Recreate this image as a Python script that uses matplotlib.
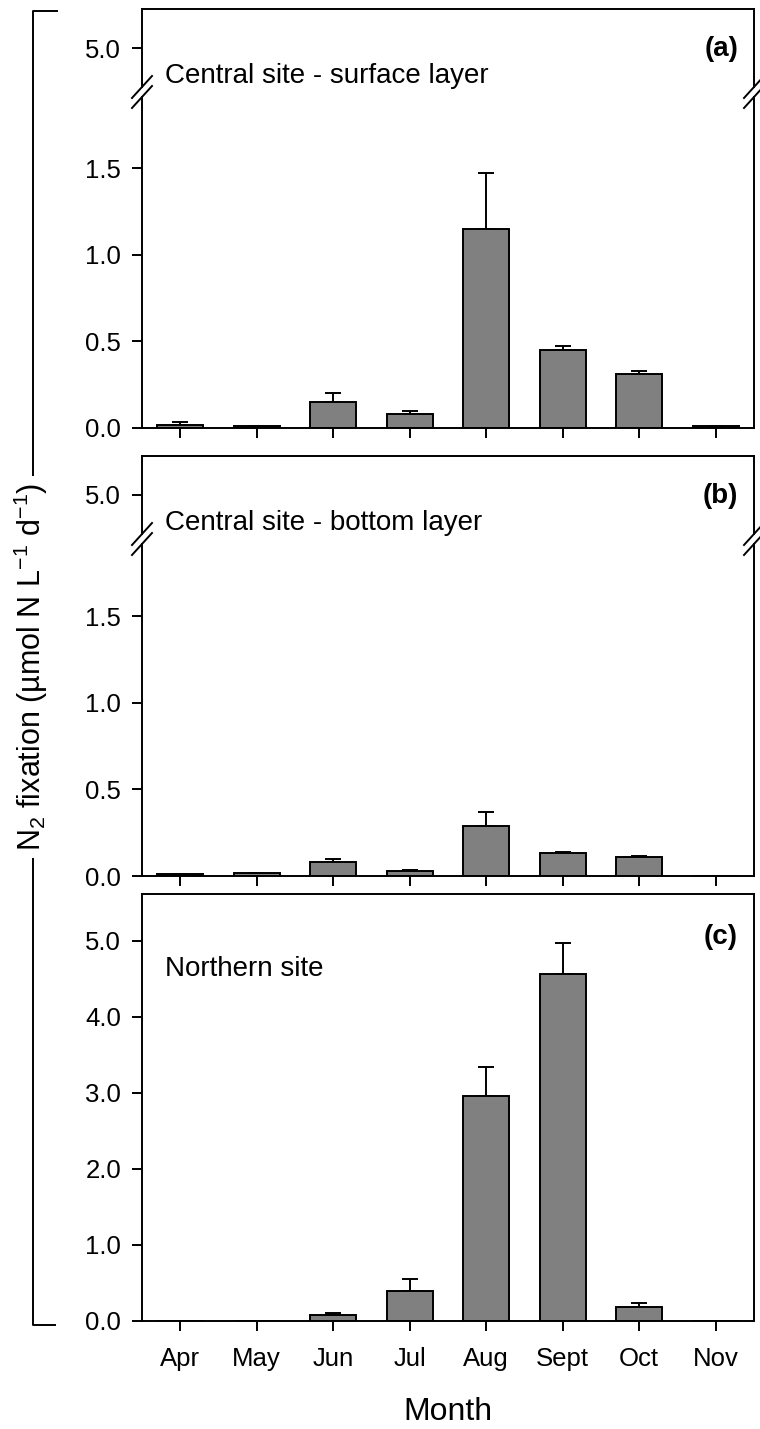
import matplotlib
matplotlib.use("Agg")
import matplotlib.pyplot as plt
from matplotlib.lines import Line2D
import numpy as np

plt.rcParams['font.family'] = ['Liberation Sans', 'DejaVu Sans']
plt.rcParams['mathtext.fontset'] = 'custom'
plt.rcParams['mathtext.rm'] = 'Liberation Sans'
plt.rcParams['mathtext.it'] = 'Liberation Sans:italic'
plt.rcParams['mathtext.bf'] = 'Liberation Sans:bold'

months = ["Apr", "May", "Jun", "Jul", "Aug", "Sept", "Oct", "Nov"]

surface_vals = [0.02, 0.01, 0.15, 0.08, 1.15, 0.45, 0.31, 0.01]
surface_err = [0.015, 0.003, 0.05, 0.02, 0.32, 0.025, 0.02, 0.003]

bottom_vals = [0.01, 0.015, 0.08, 0.03, 0.29, 0.13, 0.11, 0.0]
bottom_err = [0.003, 0.005, 0.02, 0.005, 0.08, 0.01, 0.004, 0.0]

north_vals = [0.0, 0.0, 0.08, 0.40, 2.96, 4.56, 0.19, 0.0]
north_err = [0.0, 0.0, 0.02, 0.15, 0.38, 0.42, 0.05, 0.0]

lower_ticks = [0.0, 0.5, 1.0, 1.5]
upper_ticks = [5.0]
north_ticks = [0.0, 1.0, 2.0, 3.0, 4.0, 5.0]

panel_titles = ["Central site - surface layer", "Central site - bottom layer", "Northern site"]
panel_tags = ["(a)", "(b)", "(c)"]

W, H = 760, 1429
fig = plt.figure(figsize=(W / 100, H / 100), dpi=100)

def fx(x):
    return x / W

def fy(y):
    return 1 - y / H

def add_ax(left, right, top, bottom):
    return fig.add_axes([fx(left), fy(bottom), fx(right) - fx(left), (bottom - top) / H])

LEFT, RIGHT = 142, 754
LW = 1.4
BAR_COLOR = "#808080"
FS_TICK = 18.5
FS_TEXT = 20
x = np.arange(len(months))

def style(ax):
    for s in ax.spines.values():
        s.set_linewidth(LW)
    ax.tick_params(axis='both', direction='out', length=7, width=LW, labelsize=FS_TICK, pad=8)
    ax.set_xlim(-0.5, 7.5)

def draw_bars(ax, vals, errs):
    ax.bar(x, vals, width=0.6, color=BAR_COLOR, edgecolor='black', linewidth=LW, zorder=2)
    idx = [i for i in range(len(vals)) if errs[i] > 0]
    ax.errorbar(x[idx], np.array(vals)[idx], yerr=[np.zeros(len(idx)), np.array(errs)[idx]],
                fmt='none', ecolor='black', elinewidth=LW, capsize=6, capthick=LW, zorder=1)

def slash(xc, yc):
    fig.add_artist(Line2D([fx(xc - 10), fx(xc + 10)], [fy(yc + 11), fy(yc - 11)],
                          color='black', lw=LW, transform=fig.transFigure))

# broken panels (a) and (b)
broken = [
    (9, 87, 97, 428, surface_vals, surface_err),
    (456, 534, 544, 876, bottom_vals, bottom_err),
]
scale = 173.3  # px per unit
for k, (t_up, b_up, t_lo, b_lo, vals, errs) in enumerate(broken):
    axu = add_ax(LEFT, RIGHT, t_up, b_up)
    axl = add_ax(LEFT, RIGHT, t_lo, b_lo)
    style(axu)
    style(axl)
    top5 = 5.0 + 39 / scale
    axu.set_ylim(top5 - (b_up - t_up) / scale, top5)
    axl.set_ylim(0, (b_lo - t_lo) / scale)
    draw_bars(axu, vals, errs)
    draw_bars(axl, vals, errs)
    axu.spines['bottom'].set_visible(False)
    axl.spines['top'].set_visible(False)
    axu.set_xticks([])
    axu.set_yticks(upper_ticks)
    axu.set_yticklabels([f"{v:.1f}" for v in upper_ticks])
    axl.set_yticks(lower_ticks)
    axl.set_yticklabels([f"{v:.1f}" for v in lower_ticks])
    axl.set_xticks(x)
    axl.set_xticklabels([])
    for xc in (LEFT, RIGHT):
        slash(xc, b_up)
        slash(xc, t_lo)
    fig.text(fx(165), fy(t_up + 67), panel_titles[k], fontsize=FS_TEXT, ha='left', va='center')
    fig.text(fx(738), fy(t_up + 40), panel_tags[k], fontsize=FS_TEXT, fontweight='bold',
             ha='right', va='center')

# panel (c)
axc = add_ax(LEFT, RIGHT, 894, 1321)
style(axc)
axc.set_ylim(0, (1321 - 894) / 76.0)
draw_bars(axc, north_vals, north_err)
axc.set_yticks(north_ticks)
axc.set_yticklabels([f"{v:.1f}" for v in north_ticks])
axc.set_xticks(x)
axc.set_xticklabels(months)
axc.tick_params(axis='x', pad=12)
fig.text(fx(165), fy(969), panel_titles[2], fontsize=FS_TEXT, ha='left', va='center')
fig.text(fx(738), fy(937), panel_tags[2], fontsize=FS_TEXT, fontweight='bold', ha='right', va='center')

fig.text(fx((LEFT + RIGHT) / 2), fy(1412), "Month", fontsize=23, ha='center', va='center')

# bracket for y label
bx = 33
fig.add_artist(Line2D([fx(57), fx(bx), fx(bx), fx(55)], [fy(11), fy(11), fy(1325), fy(1325)],
                      color='black', lw=LW, transform=fig.transFigure))
fig.text(fx(bx - 2), fy(667), r"N$_2$ fixation (µmol N L$^{-1}$ d$^{-1}$)", fontsize=22,
         rotation=90, ha='center', va='center',
         bbox=dict(facecolor='white', edgecolor='none', pad=5))

fig.savefig("out.png", dpi=100)
